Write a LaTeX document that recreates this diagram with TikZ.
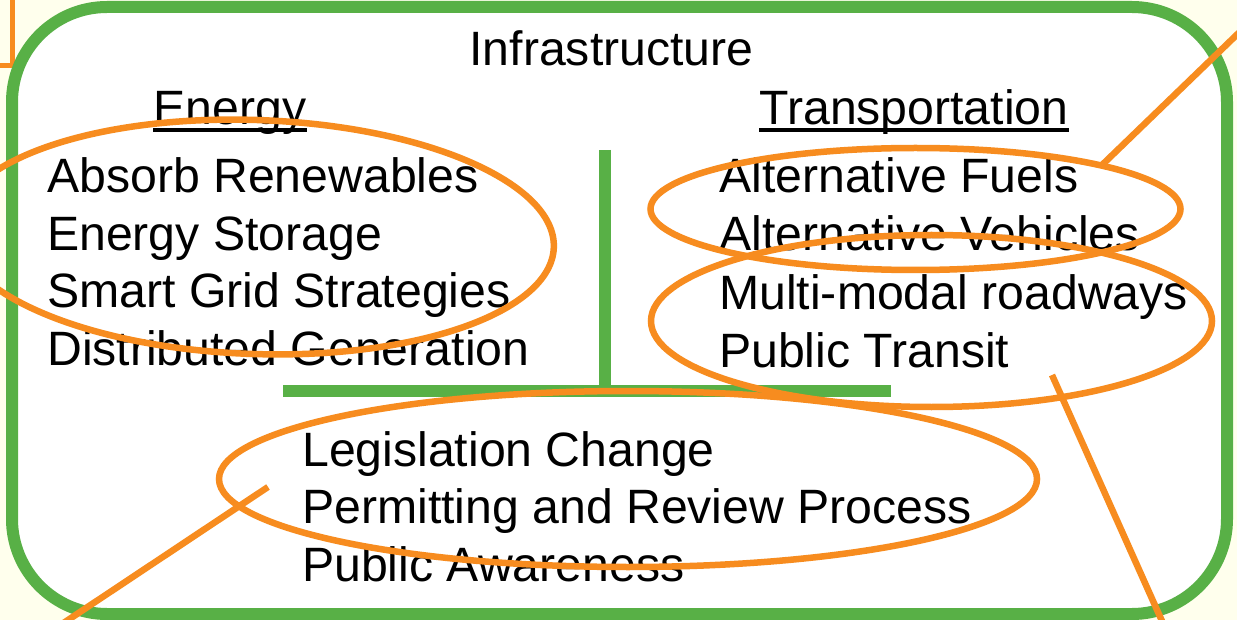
\documentclass[tikz,border=0pt]{standalone}
\usepackage{fontspec}
\setmainfont{Liberation Sans}
\usepackage{tikz}
\definecolor{framegreen}{RGB}{88,176,70}
\definecolor{markorange}{RGB}{247,140,31}
\definecolor{paper}{RGB}{255,255,237}

\begin{document}
\begin{tikzpicture}[x=1pt,y=-1pt]
	\tikzstyle{txt}=[inner sep=0pt,font=\fontsize{48.2}{58}\selectfont]
	\tikzstyle{item}=[txt,anchor=base west]
	\tikzstyle{heading}=[txt,anchor=base]
	\tikzstyle{ring}=[markorange,line width=6.5pt]
	\tikzstyle{pointer}=[markorange,line width=6.5pt]
	\tikzstyle{bar}=[framegreen,line width=12pt]
	\useasboundingbox [fill=paper] (0,0) rectangle (1237,620);
	\draw [markorange,line width=5pt] (-20,-20) rectangle (12.5,66);
	\draw [bar,fill=white,rounded corners=95pt] (12,7) rectangle (1227,614);
	\draw [bar] (604.5,150) -- (604.5,391);
	\draw [bar] (283,391) -- (891,391);
	\node (infra)     at (611.5,66) [heading] {Infrastructure};
	\node (energy)    at (230,125)  [heading] {Energy};
	\node (transport) at (914,125)  [heading] {Transportation};
	\draw [line width=3.5pt] ([yshift=-5pt]energy.base west) -- ([yshift=-5pt]energy.base east);
	\draw [line width=3.5pt] ([yshift=-5pt]transport.base west) -- ([yshift=-5pt]transport.base east);
	\node (energy1) at (47,193) [item] {Absorb Renewables};
	\node (energy2) at (47,251) [item] {Energy Storage};
	\node (energy3) at (47,308) [item] {Smart Grid Strategies};
	\node (energy4) at (47,366) [item] {Distributed Generation};
	\node (transport1) at (719,193) [item] {Alternative Fuels};
	\node (transport2) at (719,251) [item] {Alternative Vehicles};
	\node (transport3) at (719,309) [item] {Multi-modal roadways};
	\node (transport4) at (719,367) [item] {Public Transit};
	\node (policy1) at (302,466) [item] {Legislation Change};
	\node (policy2) at (302,523) [item] {Permitting and Review Process};
	\node (policy3) at (302,581) [item] {Public Awareness};
	% marks
	\draw [ring,rotate around={-2:(255,237)}] (255,237) ellipse [x radius=299pt,y radius=117pt];
	\draw [ring] (915.5,209) ellipse [x radius=265pt,y radius=61pt];
	\draw [ring] (931.5,321) ellipse [x radius=280.5pt,y radius=86pt];
	\draw [ring] (628,479) ellipse [x radius=409pt,y radius=88pt];
	\coordinate (fuelsTip)   at (1102,165);
	\coordinate (fuelsEnd)   at (1250,22);
	\coordinate (policyTip)  at (268,487);
	\coordinate (policyEnd)  at (53,630);
	\coordinate (transitTip) at (1052,375);
	\coordinate (transitEnd) at (1166,630);
	\draw [pointer] (fuelsTip) -- (fuelsEnd);
	\draw [pointer] (policyTip) -- (policyEnd);
	\draw [pointer] (transitTip) -- (transitEnd);
\end{tikzpicture}
\end{document}
